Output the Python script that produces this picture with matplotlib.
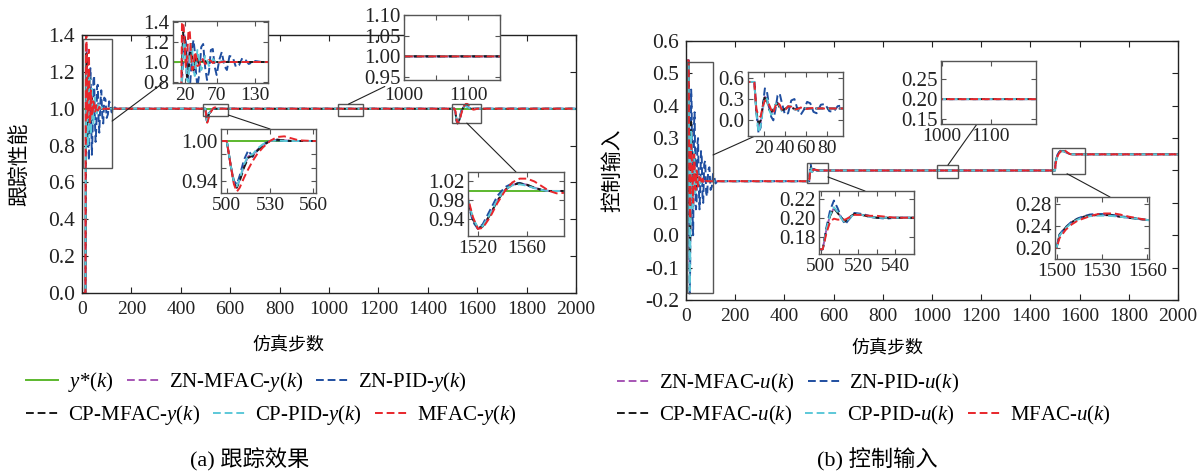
import matplotlib
matplotlib.use('Agg')
import matplotlib.pyplot as plt
from matplotlib.patches import Rectangle, ConnectionPatch
from matplotlib.lines import Line2D
from matplotlib.ticker import FormatStrFormatter

plt.rcParams['font.family'] = ['Liberation Serif', 'Noto Sans CJK SC']
plt.rcParams['mathtext.fontset'] = 'custom'
plt.rcParams['mathtext.rm'] = 'Liberation Serif'
plt.rcParams['mathtext.it'] = 'Liberation Serif:italic'
plt.rcParams['axes.unicode_minus'] = True

# ---------------- data: tracking output y(k) ----------------
k_trans_y = [0, 14, 16, 18, 20, 22, 24, 26, 28, 30, 32, 34, 36, 38, 40, 43, 46, 49, 52, 55,
             58, 61, 64, 67, 70, 74, 78, 82, 86, 90, 95, 100, 105, 110, 115, 120, 130, 140, 150]
y_trans_mfac = [0, 0, 1.38, 1.40, 1.20, 0.95, 1.05, 1.30, 1.32, 1.10,
                0.92, 0.96, 1.10, 1.06, 0.96, 0.97, 1.04, 1.02, 0.98, 0.99,
                1.02, 1.01, 0.99, 1.00, 1.01, 0.995, 1.00, 1.005, 0.998, 1.00,
                1.0, 1.0, 1.0, 1.0, 1.0, 1.0, 1.0, 1.0, 1.0]
y_trans_znpid = [0, 0, 0.80, 1.05, 1.25, 1.20, 0.95, 0.78, 0.72, 0.90,
                 1.15, 1.22, 1.10, 0.88, 0.75, 0.88, 1.15, 1.18, 0.95, 0.82,
                 0.90, 1.12, 1.13, 0.95, 0.87, 1.02, 1.10, 0.96, 0.92, 1.06,
                 1.05, 0.95, 0.97, 1.04, 1.02, 0.98, 1.01, 1.0, 1.0]
y_trans_cpmfac = [0, 0, 1.00, 1.30, 1.28, 1.05, 0.85, 0.88, 1.08, 1.18,
                  1.05, 0.92, 0.95, 1.06, 1.05, 0.97, 0.98, 1.02, 1.01, 0.99,
                  1.0, 1.0, 1.0, 1.0, 1.0, 1.0, 1.0, 1.0, 1.0, 1.0,
                  1.0, 1.0, 1.0, 1.0, 1.0, 1.0, 1.0, 1.0, 1.0]
y_trans_cppid = [0, 0, 0.85, 1.15, 1.22, 1.00, 0.82, 0.80, 1.00, 1.18,
                 1.12, 0.92, 0.86, 1.00, 1.12, 1.02, 0.92, 0.97, 1.06, 1.02,
                 0.96, 0.99, 1.03, 1.01, 0.98, 1.00, 1.01, 1.00, 1.00, 1.00,
                 1.0, 1.0, 1.0, 1.0, 1.0, 1.0, 1.0, 1.0, 1.0]
y_trans_znmfac = [0, 0, 1.10, 1.35, 1.25, 0.98, 0.82, 0.95, 1.15, 1.15,
                  0.98, 0.90, 1.00, 1.07, 1.02, 0.96, 1.00, 1.03, 1.00, 0.98,
                  1.0, 1.0, 1.0, 1.0, 1.0, 1.0, 1.0, 1.0, 1.0, 1.0,
                  1.0, 1.0, 1.0, 1.0, 1.0, 1.0, 1.0, 1.0, 1.0]

k_d500_y = [500, 503, 505, 507, 509, 512, 515, 518, 521, 525, 530, 535, 540, 545, 550, 560]
y_d500_mfac = [1.0, 0.96, 0.935, 0.924, 0.93, 0.945, 0.958, 0.97, 0.98, 0.99, 1.0, 1.006, 1.007, 1.004, 1.001, 1.0]
y_d500_znpid = [1.0, 0.96, 0.94, 0.935, 0.948, 0.972, 0.986, 0.976, 0.985, 0.995, 1.0, 1.001, 1.0, 1.0, 1.0, 1.0]
y_d500_cpmfac = [1.0, 0.96, 0.937, 0.93, 0.94, 0.96, 0.975, 0.978, 0.985, 0.993, 1.0, 1.002, 1.001, 1.0, 1.0, 1.0]
y_d500_cppid = [1.0, 0.96, 0.938, 0.932, 0.943, 0.965, 0.978, 0.98, 0.988, 0.995, 1.0, 1.001, 1.0, 1.0, 1.0, 1.0]
y_d500_znmfac = [1.0, 0.96, 0.937, 0.93, 0.942, 0.963, 0.977, 0.979, 0.986, 0.994, 1.0, 1.002, 1.001, 1.0, 1.0, 1.0]

k_d1500_y = [1500, 1508, 1512, 1516, 1520, 1524, 1530, 1536, 1542, 1548, 1554, 1560, 1566, 1572, 1578, 1584, 1590, 1600]
y_d1500_mfac = [1.0, 1.0, 0.985, 0.945, 0.92, 0.922, 0.945, 0.975, 1.0, 1.018, 1.026, 1.026, 1.02, 1.01, 1.0, 0.995, 0.996, 1.0]
y_d1500_znpid = [1.0, 1.0, 0.975, 0.935, 0.92, 0.93, 0.96, 0.99, 1.008, 1.016, 1.017, 1.012, 1.006, 1.002, 1.0, 1.0, 1.0, 1.0]
y_d1500_cpmfac = [1.0, 1.0, 0.98, 0.94, 0.922, 0.925, 0.95, 0.98, 1.002, 1.013, 1.016, 1.013, 1.007, 1.002, 1.0, 1.0, 1.0, 1.0]
y_d1500_cppid = [1.0, 1.0, 0.982, 0.942, 0.923, 0.926, 0.952, 0.982, 1.003, 1.012, 1.014, 1.011, 1.006, 1.002, 1.0, 1.0, 1.0, 1.0]
y_d1500_znmfac = [1.0, 1.0, 0.98, 0.94, 0.921, 0.925, 0.95, 0.98, 1.002, 1.013, 1.016, 1.013, 1.007, 1.002, 1.0, 1.0, 1.0, 1.0]

k_ref = [0, 2000]
y_ref = [1.0, 1.0]
k_end = [2000]
y_end = [1.0]

# ---------------- data: control input u(k) ----------------
k_trans_u = [0, 11, 13, 15, 17, 19, 21, 23, 25, 27, 29, 31, 33, 35, 37, 40, 43, 46, 49, 52,
             55, 58, 61, 64, 67, 70, 74, 78, 82, 86, 90, 95, 100, 105, 110, 115, 120, 130, 150]
u_trans_mfac = [0.54, 0.54, 0.15, 0.07, 0.05, 0.20, 0.28, 0.25, 0.22, 0.15,
                0.10, 0.20, 0.25, 0.22, 0.15, 0.14, 0.20, 0.19, 0.15, 0.16,
                0.18, 0.17, 0.16, 0.17, 0.175, 0.165, 0.17, 0.165, 0.168, 0.167,
                0.167, 0.167, 0.167, 0.167, 0.167, 0.167, 0.167, 0.167, 0.167]
u_trans_znpid = [0.54, 0.54, 0.10, -0.18, -0.10, 0.20, 0.45, 0.40, 0.20, 0.05,
                 0.00, 0.15, 0.35, 0.38, 0.25, 0.08, 0.10, 0.28, 0.30, 0.15,
                 0.08, 0.15, 0.26, 0.24, 0.12, 0.10, 0.22, 0.23, 0.13, 0.12,
                 0.20, 0.21, 0.14, 0.15, 0.19, 0.18, 0.16, 0.168, 0.167]
u_trans_cppid = [0.54, 0.54, 0.10, -0.17, -0.08, 0.15, 0.32, 0.30, 0.15, 0.08,
                 0.10, 0.22, 0.26, 0.20, 0.13, 0.14, 0.20, 0.20, 0.15, 0.15,
                 0.18, 0.18, 0.16, 0.165, 0.17, 0.167, 0.167, 0.167, 0.167, 0.167,
                 0.167, 0.167, 0.167, 0.167, 0.167, 0.167, 0.167, 0.167, 0.167]
u_trans_cpmfac = [0.54, 0.54, 0.12, -0.05, 0.00, 0.20, 0.35, 0.28, 0.15, 0.12,
                  0.15, 0.22, 0.24, 0.18, 0.14, 0.16, 0.19, 0.18, 0.16, 0.165,
                  0.17, 0.168, 0.167, 0.167, 0.167, 0.167, 0.167, 0.167, 0.167, 0.167,
                  0.167, 0.167, 0.167, 0.167, 0.167, 0.167, 0.167, 0.167, 0.167]
u_trans_znmfac = [0.54, 0.54, 0.12, -0.10, -0.02, 0.18, 0.33, 0.30, 0.17, 0.10,
                  0.13, 0.20, 0.25, 0.20, 0.14, 0.15, 0.19, 0.19, 0.16, 0.16,
                  0.17, 0.168, 0.167, 0.167, 0.167, 0.167, 0.167, 0.167, 0.167, 0.167,
                  0.167, 0.167, 0.167, 0.167, 0.167, 0.167, 0.167, 0.167, 0.167]

k_d500_u = [500, 501, 503, 505, 507, 509, 511, 513, 515, 518, 522, 526, 530, 535, 540, 550, 560]
u_d500_mfac = [0.167, 0.167, 0.184, 0.196, 0.199, 0.198, 0.198, 0.198, 0.200, 0.203, 0.203, 0.202, 0.202, 0.201, 0.200, 0.200, 0.200]
u_d500_znpid = [0.167, 0.167, 0.190, 0.208, 0.218, 0.210, 0.200, 0.193, 0.198, 0.205, 0.204, 0.202, 0.200, 0.199, 0.200, 0.200, 0.200]
u_d500_cppid = [0.167, 0.167, 0.188, 0.203, 0.211, 0.206, 0.199, 0.195, 0.199, 0.204, 0.203, 0.201, 0.200, 0.200, 0.200, 0.200, 0.200]
u_d500_cpmfac = [0.167, 0.167, 0.188, 0.202, 0.210, 0.205, 0.200, 0.196, 0.200, 0.204, 0.203, 0.201, 0.200, 0.200, 0.200, 0.200, 0.200]
u_d500_znmfac = [0.167, 0.167, 0.188, 0.203, 0.210, 0.206, 0.200, 0.196, 0.200, 0.204, 0.203, 0.201, 0.200, 0.200, 0.200, 0.200, 0.200]

k_d1500_u = [1500, 1502, 1506, 1510, 1514, 1518, 1522, 1526, 1530, 1534, 1538, 1542, 1548, 1554, 1560, 1570, 1580, 1600]
u_d1500_mfac = [0.200, 0.218, 0.233, 0.243, 0.250, 0.254, 0.258, 0.261, 0.263, 0.263, 0.263, 0.261, 0.257, 0.254, 0.251, 0.250, 0.250, 0.250]
u_d1500_znpid = [0.200, 0.225, 0.238, 0.248, 0.254, 0.258, 0.261, 0.262, 0.262, 0.261, 0.260, 0.258, 0.256, 0.253, 0.251, 0.250, 0.250, 0.250]
u_d1500_cppid = [0.200, 0.223, 0.236, 0.246, 0.252, 0.256, 0.258, 0.259, 0.259, 0.259, 0.258, 0.257, 0.255, 0.253, 0.251, 0.250, 0.250, 0.250]
u_d1500_cpmfac = [0.200, 0.224, 0.237, 0.247, 0.253, 0.257, 0.259, 0.260, 0.260, 0.260, 0.259, 0.257, 0.255, 0.253, 0.251, 0.250, 0.250, 0.250]
u_d1500_znmfac = [0.200, 0.224, 0.237, 0.247, 0.253, 0.257, 0.259, 0.260, 0.260, 0.260, 0.259, 0.257, 0.255, 0.253, 0.251, 0.250, 0.250, 0.250]
u_end = [0.25]

methods = ['ZN-MFAC', 'ZN-PID', 'CP-MFAC', 'CP-PID', 'MFAC']

# ---------------- assemble ----------------
k_y = k_trans_y + k_d500_y + k_d1500_y + k_end
Y = {
    'ZN-MFAC': y_trans_znmfac + y_d500_znmfac + y_d1500_znmfac + y_end,
    'ZN-PID': y_trans_znpid + y_d500_znpid + y_d1500_znpid + y_end,
    'CP-MFAC': y_trans_cpmfac + y_d500_cpmfac + y_d1500_cpmfac + y_end,
    'CP-PID': y_trans_cppid + y_d500_cppid + y_d1500_cppid + y_end,
    'MFAC': y_trans_mfac + y_d500_mfac + y_d1500_mfac + y_end,
}
k_u = k_trans_u + k_d500_u + k_d1500_u + k_end
U = {
    'ZN-MFAC': u_trans_znmfac + u_d500_znmfac + u_d1500_znmfac + u_end,
    'ZN-PID': u_trans_znpid + u_d500_znpid + u_d1500_znpid + u_end,
    'CP-MFAC': u_trans_cpmfac + u_d500_cpmfac + u_d1500_cpmfac + u_end,
    'CP-PID': u_trans_cppid + u_d500_cppid + u_d1500_cppid + u_end,
    'MFAC': u_trans_mfac + u_d500_mfac + u_d1500_mfac + u_end,
}

GREEN = '#5cb82e'
COLORS = {'ZN-MFAC': '#a655b4', 'ZN-PID': '#1f4ea0', 'CP-MFAC': '#1a1a1a',
          'CP-PID': '#5cc8d8', 'MFAC': '#e8262b'}
OFFS = {'ZN-MFAC': 0, 'ZN-PID': 2, 'CP-MFAC': 4, 'CP-PID': 3, 'MFAC': 0}
LW = 1.4
SPINE = '#555555'

W, H = 1200, 475
fig = plt.figure(figsize=(W / 100, H / 100), dpi=100)


def px_axes(x0, y0, x1, y1, **kw):
    return fig.add_axes([x0 / W, 1 - y1 / H, (x1 - x0) / W, (y1 - y0) / H], **kw)


def draw(ax, k, data, ref=True):
    if ref:
        ax.plot(k_ref, y_ref, color=GREEN, lw=LW)
    for m in methods:
        ax.plot(k, data[m], color=COLORS[m], lw=LW, linestyle=(OFFS[m], (4, 2)))


def style(ax, xfs, yfs, length, spine_color, xpad, ypad):
    ax.tick_params(direction='in', top=True, right=True, length=length, width=0.8,
                   color=spine_color, labelcolor='#222222')
    ax.tick_params(axis='x', labelsize=xfs, pad=xpad)
    ax.tick_params(axis='y', labelsize=yfs, pad=ypad)
    for s in ax.spines.values():
        s.set_color(spine_color)
        s.set_linewidth(1.0)


def inset(x0, y0, x1, y1, k, data, ref, xlim, ylim, xt, xtl, yt, ytl, xpad=3):
    a = px_axes(x0, y0, x1, y1, zorder=5)
    a.set_facecolor('white')
    draw(a, k, data, ref)
    a.set_xlim(*xlim)
    a.set_ylim(*ylim)
    a.set_xticks(xt)
    a.set_xticklabels(xtl)
    a.set_yticks(yt)
    a.set_yticklabels(ytl)
    style(a, 14, 15, 3.5, SPINE, xpad, 2.5)
    return a


def box(ax, x0, x1, y0, y1):
    ax.add_patch(Rectangle((x0, y0), x1 - x0, y1 - y0, fill=False, ec=SPINE, lw=1.0, zorder=4))


def connect(ax, xyA, ins, xyB):
    c = ConnectionPatch(xyA=xyA, coordsA=ax.transData, xyB=xyB, coordsB=ins.transAxes,
                        color='#222222', lw=0.8, zorder=3)
    fig.add_artist(c)


# ================= panel (a) =================
axA = px_axes(82, 35, 576, 293)
draw(axA, k_y, Y)
axA.set_xlim(0, 2000)
axA.set_ylim(0, 1.4)
axA.set_xticks(range(0, 2001, 200))
axA.set_yticks([0, 0.2, 0.4, 0.6, 0.8, 1.0, 1.2, 1.4])
axA.yaxis.set_major_formatter(FormatStrFormatter('%.1f'))
style(axA, 14, 15.5, 4, '#222222', 6, 5)
axA.set_xlabel('仿真步数', fontsize=13)
axA.xaxis.set_label_coords(0.417, -0.17)
axA.set_ylabel('跟踪性能', fontsize=15)
axA.yaxis.set_label_coords(-0.105, 0.5)

box(axA, 4, 122, 0.678, 1.378)
box(axA, 491, 592, 0.96, 1.025)
box(axA, 1036, 1138, 0.96, 1.025)
box(axA, 1497, 1615, 0.922, 1.025)

iA1 = inset(173, 21, 268, 83, k_y, Y, True, (2, 150), (0.79, 1.41),
            [20, 70, 130], ['20', '70', '130'], [0.8, 1.0, 1.2, 1.4], ['0.8', '1.0', '1.2', '1.4'])
iA2 = inset(221, 129, 316, 193, k_y, Y, True, (496, 562), (0.922, 1.018),
            [500, 530, 560], ['500', '530', '560'], [0.94, 0.96, 0.98, 1.00], ['0.94', '', '', '1.00'])
iA3 = inset(404, 15, 500, 80, k_y, Y, True, (1000, 1150), (0.943, 1.10),
            [1000, 1050, 1100, 1150], ['1000', '', '1100', ''], [0.95, 1.00, 1.05, 1.10],
            ['0.95', '1.00', '1.05', '1.10'], xpad=5)
iA4 = inset(468, 172, 564, 236, k_y, Y, True, (1512, 1590), (0.905, 1.04),
            [1520, 1560], ['1520', '1560'], [0.94, 0.98, 1.02], ['0.94', '0.98', '1.02'])

connect(axA, (122, 0.933), iA1, (-0.063, 0.048))
connect(axA, (592, 0.966), iA2, (0.516, 1.0))
connect(axA, (1079, 1.025), iA3, (-0.2, -0.1))
connect(axA, (1558, 0.922), iA4, (0.5, 1.0))

# ================= panel (b) =================
axB = px_axes(686, 41, 1178, 300)
draw(axB, k_u, U, ref=False)
axB.set_xlim(0, 2000)
axB.set_ylim(-0.2, 0.6)
axB.set_xticks(range(0, 2001, 200))
axB.set_yticks([-0.2, -0.1, 0.0, 0.1, 0.2, 0.3, 0.4, 0.5, 0.6])
axB.yaxis.set_major_formatter(FormatStrFormatter('%.1f'))
style(axB, 14, 15.5, 4, '#222222', 6, 5)
axB.set_xlabel('仿真步数', fontsize=13)
axB.xaxis.set_label_coords(0.41, -0.155)
axB.set_ylabel('控制输入', fontsize=15)
axB.yaxis.set_label_coords(-0.128, 0.5)

box(axB, 4, 110, -0.178, 0.535)
box(axB, 492, 577, 0.162, 0.223)
box(axB, 1020, 1106, 0.177, 0.217)
box(axB, 1488, 1622, 0.19, 0.27)

iB1 = inset(748, 72, 843, 136, k_u, U, False, (5, 95), (-0.22, 0.68),
            [20, 40, 60, 80], ['20', '40', '60', '80'], [0.0, 0.3, 0.6], ['0.0', '0.3', '0.6'])
iB2 = inset(819, 191, 914, 254, k_u, U, False, (499, 550), (0.162, 0.228),
            [500, 510, 520, 530, 540, 550], ['500', '', '520', '', '540', ''],
            [0.18, 0.20, 0.22], ['0.18', '0.20', '0.22'])
iB3 = inset(941, 61, 1036, 124, k_u, U, False, (998, 1192), (0.138, 0.295),
            [1000, 1100], ['1000', '1100'], [0.15, 0.20, 0.25], ['0.15', '0.20', '0.25'])
iB4 = inset(1055, 197, 1149, 259, k_u, U, False, (1499, 1561), (0.18, 0.293),
            [1500, 1530, 1560], ['1500', '1530', '1560'], [0.20, 0.24, 0.28], ['0.20', '0.24', '0.28'])

connect(axB, (110, 0.248), iB1, (0.074, 0.0))
connect(axB, (577, 0.18), iB2, (0.484, 1.0))
connect(axB, (1065, 0.217), iB3, (0.379, 0.0))
connect(axB, (1549, 0.19), iB4, (0.585, 1.0))

# ================= legends =================
def h(m):
    return Line2D([], [], color=COLORS[m], lw=LW, linestyle=(0, (4, 2)))


href = Line2D([], [], color=GREEN, lw=LW)
leg_kw = dict(frameon=False, fontsize=15, handlelength=1.55, handletextpad=0.45,
              columnspacing=0.65, borderpad=0, borderaxespad=0, loc='center left')

la1 = fig.legend([href, h('ZN-MFAC'), h('ZN-PID')],
                 [r'$y$*($k$)', r'ZN-MFAC-$y$($k$)', r'ZN-PID-$y$($k$)'],
                 ncol=3, bbox_to_anchor=(26 / W, 1 - 382 / H), **leg_kw)
la2 = fig.legend([h('CP-MFAC'), h('CP-PID'), h('MFAC')],
                 [r'CP-MFAC-$y$($k$)', r'CP-PID-$y$($k$)', r'MFAC-$y$($k$)'],
                 ncol=3, bbox_to_anchor=(26 / W, 1 - 415 / H), **leg_kw)
lb1 = fig.legend([h('ZN-MFAC'), h('ZN-PID')],
                 [r'ZN-MFAC-$u$($k$)', r'ZN-PID-$u$($k$)'],
                 ncol=2, bbox_to_anchor=(617 / W, 1 - 383 / H), **leg_kw)
lb2 = fig.legend([h('CP-MFAC'), h('CP-PID'), h('MFAC')],
                 [r'CP-MFAC-$u$($k$)', r'CP-PID-$u$($k$)', r'MFAC-$u$($k$)'],
                 ncol=3, bbox_to_anchor=(617 / W, 1 - 415 / H), **leg_kw)

fig.text(250 / W, 1 - 460 / H, '(a) 跟踪效果', ha='center', va='center', fontsize=16)
fig.text(877 / W, 1 - 460 / H, '(b) 控制输入', ha='center', va='center', fontsize=16)

fig.savefig('out.png', dpi=100, facecolor='white')
